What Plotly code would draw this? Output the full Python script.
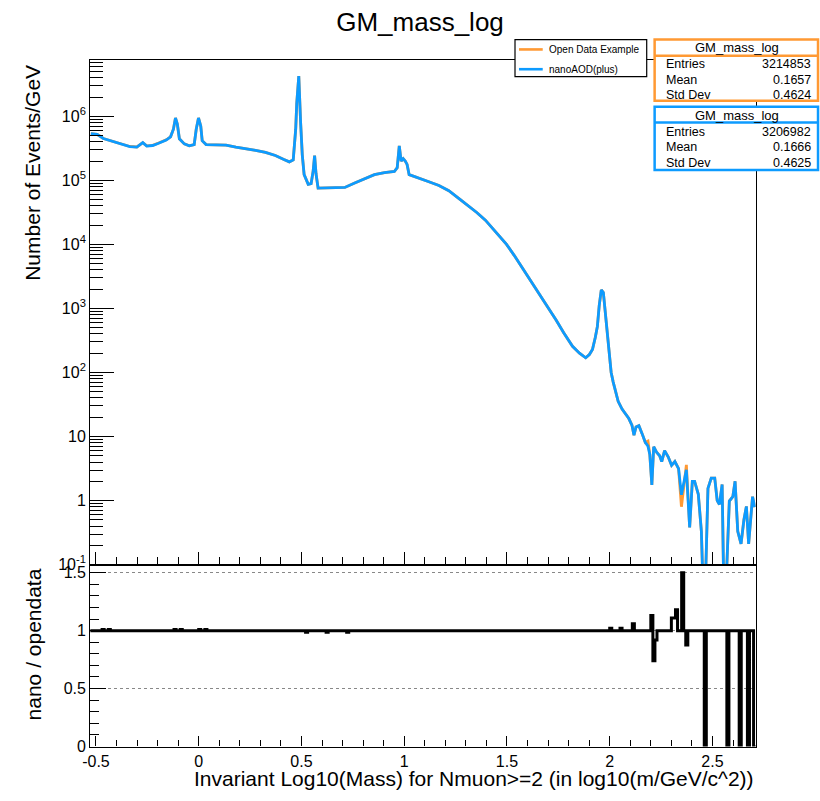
import plotly.graph_objects as go

# ---------------- data ----------------
mass_x = [
    -0.525, -0.494, -0.464, -0.431, -0.398, -0.369, -0.335, -0.301, -0.272, -0.253,
    -0.224, -0.195, -0.158, -0.137, -0.123, -0.113, -0.104, -0.094, -0.070, -0.046,
    -0.022, -0.012, -0.001, 0.010, 0.017, 0.036, 0.084, 0.133, 0.181, 0.229,
    0.277, 0.325, 0.373, 0.412, 0.441, 0.460, 0.472, 0.477, 0.487, 0.496,
    0.504, 0.513, 0.533, 0.547, 0.557, 0.564, 0.571, 0.581, 0.614, 0.663,
    0.711, 0.759, 0.807, 0.855, 0.904, 0.952, 0.966, 0.976, 0.985, 0.995,
    1.005, 1.014, 1.024, 1.072, 1.120, 1.169, 1.217, 1.273, 1.313, 1.353,
    1.395, 1.434, 1.467, 1.498, 1.535, 1.578, 1.617, 1.659, 1.699, 1.739,
    1.776, 1.819, 1.853, 1.883, 1.901, 1.916, 1.930, 1.940, 1.949, 1.959,
    1.969, 1.978, 1.988, 1.998, 2.007, 2.017, 2.028, 2.041, 2.060, 2.075,
    2.093, 2.108, 2.118, 2.128, 2.142, 2.157, 2.173, 2.186, 2.195, 2.205,
    2.214, 2.229, 2.243, 2.253, 2.267, 2.285, 2.301, 2.317, 2.335, 2.349,
    2.364, 2.373, 2.389, 2.402, 2.413, 2.431, 2.446, 2.460, 2.478, 2.494,
    2.511, 2.523, 2.534, 2.547, 2.558, 2.582, 2.599, 2.610, 2.623, 2.639,
    2.653, 2.665, 2.676, 2.695, 2.706,
]

nano = [
    537000, 525000, 452000, 417000, 389000, 363000, 337000, 331000, 389000, 343000,
    351000, 380000, 427000, 479000, 631000, 944000, 759000, 447000, 372000, 347000,
    363000, 631000, 944000, 708000, 417000, 363000, 363000, 355000, 331000, 316000,
    295000, 275000, 245000, 214000, 195000, 209000, 631000, 1580000, 4270000, 794000,
    251000, 123000, 87100, 89100, 141000, 245000, 126000, 75900, 75900, 75900,
    77600, 91200, 107000, 123000, 132000, 138000, 158000, 347000, 200000, 219000,
    200000, 178000, 123000, 107000, 95500, 83200, 69200, 50100, 39800, 31600,
    24000, 17400, 13200, 10000, 6760, 4170, 2630, 1620, 1050, 661,
    417, 257, 200, 170, 191, 229, 355, 525, 1120, 1950,
    1780, 891, 468, 200, 100, 70.8, 49.0, 35.5, 26.9, 22.9,
    19.1, 15.1, 10.5, 14.1, 14.8, 11.2, 8.13, 7.08, 5.25, 1.76,
    6.92, 5.62, 5.01, 4.07, 6.03, 4.79, 3.55, 4.07, 3.16, 1.23,
    2.00, 3.02, 0.38, 2.00, 2.00, 1.26, 0.33, 0.01, 1.55, 2.24,
    2.24, 1.00, 0.87, 1.78, 0.01, 0.98, 1.15, 2.00, 0.33, 0.21,
    0.50, 0.81, 0.21, 1.15, 0.79,
]

opendata = [
    537000, 525000, 452000, 420000, 391000, 366000, 339000, 333000, 389000, 346000,
    354000, 384000, 430000, 479000, 631000, 944000, 759000, 447000, 372000, 347000,
    363000, 631000, 944000, 708000, 417000, 363000, 363000, 355000, 331000, 316000,
    295000, 275000, 245000, 214000, 195000, 209000, 631000, 1580000, 4270000, 794000,
    251000, 123000, 87100, 89100, 141000, 245000, 126000, 75900, 75900, 75900,
    77600, 91200, 107000, 123000, 132000, 138000, 158000, 347000, 200000, 219000,
    200000, 178000, 123000, 107000, 95500, 83200, 69200, 50100, 39800, 31600,
    24000, 17400, 13200, 10000, 6760, 4170, 2630, 1620, 1050, 661,
    417, 257, 200, 170, 191, 229, 355, 525, 1120, 1950,
    1780, 891, 468, 200, 100, 70.8, 49.0, 35.5, 26.9, 22.9,
    19.1, 15.1, 10.5, 14.1, 14.8, 11.2, 8.13, 8.50, 5.25, 1.76,
    6.92, 5.62, 5.01, 4.07, 6.03, 4.79, 3.55, 4.07, 3.16, 0.80,
    2.00, 3.60, 0.38, 2.00, 2.00, 1.26, 0.33, 0.01, 1.55, 2.24,
    2.24, 1.00, 0.87, 1.78, 0.01, 0.98, 1.15, 2.00, 0.33, 0.21,
    0.50, 0.81, 0.21, 1.15, 0.79,
]

ratio_x = [
    -0.528, -0.47, -0.46, -0.44, -0.43, -0.12, -0.11, -0.09, -0.08, 0.0,
    0.01, 0.03, 0.04, 0.52, 0.53, 0.62, 0.63, 0.72, 0.73, 2.00,
    2.01, 2.05, 2.06, 2.11, 2.12, 2.20, 2.21, 2.22, 2.23, 2.30,
    2.32, 2.33, 2.35, 2.36, 2.37, 2.38, 2.46, 2.47, 2.57, 2.58,
    2.63, 2.64, 2.67, 2.68, 2.70, 2.71,
]
ratio = [
    1.0, 1.01, 1.0, 1.01, 1.0, 1.01, 1.0, 1.01, 1.0, 1.01,
    1.0, 1.01, 1.0, 0.985, 1.0, 0.985, 1.0, 0.985, 1.0, 1.02,
    1.0, 1.02, 1.0, 1.06, 1.0, 1.13, 0.74, 0.92, 1.0, 1.11,
    1.18, 1.0, 1.5, 1.0, 0.877, 1.0, 0.0, 1.0, 0.0, 1.0,
    0.0, 1.0, 0.0, 1.0, 0.0, 0.0,
]

x_ticks = [-0.5, 0, 0.5, 1, 1.5, 2, 2.5]
x_ticktext = ["-0.5", "0", "0.5", "1", "1.5", "2", "2.5"]
y_ticks = [0.1, 1, 10, 100, 1e3, 1e4, 1e5, 1e6]
y_ticktext = ["10<sup>-1</sup>", "1", "10", "10<sup>2</sup>", "10<sup>3</sup>",
              "10<sup>4</sup>", "10<sup>5</sup>", "10<sup>6</sup>"]
r_ticks = [0, 0.5, 1, 1.5]
r_ticktext = ["0", "0.5", "1", "1.5"]

legend_names = ["Open Data Example", "nanoAOD(plus)"]
stats_title = "GM_mass_log"
stats_labels = ["Entries", "Mean", "Std Dev"]
stats_open = ["3214853", "0.1657", "0.4624"]
stats_nano = ["3206982", "0.1666", "0.4625"]

ORANGE = "#ff9933"
BLUE = "#0d9bff"
W, H = 820, 801
FONT = "Liberation Sans, Arial, Helvetica, sans-serif"

fig = go.Figure()
fig.add_trace(go.Scatter(x=mass_x, y=opendata, mode="lines", name=legend_names[0],
                         line=dict(color=ORANGE, width=2.8), xaxis="x", yaxis="y",
                         showlegend=False))
fig.add_trace(go.Scatter(x=mass_x, y=nano, mode="lines", name=legend_names[1],
                         line=dict(color=BLUE, width=2.8), xaxis="x", yaxis="y",
                         showlegend=False))
fig.add_trace(go.Scatter(x=ratio_x, y=ratio, mode="lines", showlegend=False,
                         line=dict(color="black", width=3, shape="hv"),
                         xaxis="x2", yaxis="y2"))

def px(x):
    return x / W

def py(y):
    return 1 - y / H

xr = [-0.528, 2.71]
common_x = dict(range=xr, showgrid=False, zeroline=False, showline=True, linecolor="black",
                linewidth=1.2, mirror=True, ticks="inside", tickcolor="black",
                tickvals=x_ticks, ticktext=x_ticktext, domain=[px(83), px(755)],
                tickfont=dict(size=16, color="black", family=FONT))

fig.update_layout(
    width=W, height=H, autosize=False,
    margin=dict(l=0, r=0, t=0, b=0),
    paper_bgcolor="white", plot_bgcolor="white",
    font=dict(family=FONT, color="black"),
    title=dict(text="GM_mass_log", x=420 / W, xanchor="center", y=py(22), yanchor="middle",
               yref="container", font=dict(size=26, color="black", family=FONT)),
    xaxis=dict(common_x, anchor="y", showticklabels=False, ticklen=12,
               minor=dict(ticks="inside", ticklen=7, tickcolor="black", dtick=0.1, tick0=0)),
    yaxis=dict(type="log", range=[-1, 6.876], domain=[py(571), py(61)], anchor="x",
               showgrid=False, zeroline=False, showline=True, linecolor="black", linewidth=1.2,
               mirror=True, ticks="inside", ticklen=24, tickcolor="black",
               tickvals=y_ticks, ticktext=y_ticktext,
               tickfont=dict(size=16, color="black", family=FONT),
               minor=dict(ticks="inside", ticklen=13, tickcolor="black", dtick="D1",
                          showgrid=False)),
    xaxis2=dict(common_x, anchor="y2", matches="x", showticklabels=True, ticklen=10,
                minor=dict(ticks="inside", ticklen=6, tickcolor="black", dtick=0.1, tick0=0)),
    yaxis2=dict(range=[0, 1.57], domain=[py(755), py(571)], anchor="x2",
                showgrid=True, gridcolor="#888888", griddash="dot", gridwidth=1,
                zeroline=False, showline=True, linecolor="black", linewidth=1.2, mirror=True,
                ticks="inside", ticklen=16, tickcolor="black",
                tickvals=r_ticks, ticktext=r_ticktext,
                tickfont=dict(size=16, color="black", family=FONT),
                minor=dict(ticks="inside", ticklen=9, tickcolor="black", dtick=0.1, tick0=0,
                           showgrid=False)),
    showlegend=False,
)

annotations = [
    dict(text="Number of Events/GeV", x=px(24), y=py(175), xref="paper", yref="paper",
         textangle=-90, showarrow=False, xanchor="center", yanchor="middle",
         font=dict(size=21, color="black", family=FONT)),
    dict(text="nano / opendata", x=px(26), y=py(652), xref="paper", yref="paper",
         textangle=-90, showarrow=False, xanchor="center", yanchor="middle",
         font=dict(size=21, color="black", family=FONT)),
    dict(text="Invariant Log10(Mass) for Nmuon>=2 (in log10(m/GeV/c^2))",
         x=px(755), y=py(787), xref="paper", yref="paper", showarrow=False,
         xanchor="right", yanchor="middle", font=dict(size=21, color="black", family=FONT)),
]
shapes = []

# legend box (drawn like the ROOT TLegend)
shapes.append(dict(type="rect", xref="paper", yref="paper", x0=px(512), x1=px(645),
                   y0=py(77.5), y1=py(40), line=dict(color="black", width=1.2),
                   fillcolor="white", layer="above"))
for name, color, yy in zip(legend_names, [ORANGE, BLUE], [50, 70]):
    shapes.append(dict(type="line", xref="paper", yref="paper", x0=px(516), x1=px(540),
                       y0=py(yy), y1=py(yy), line=dict(color=color, width=2.6),
                       layer="above"))
    annotations.append(dict(text=name, x=px(544), y=py(yy), xref="paper", yref="paper",
                            showarrow=False, xanchor="left", yanchor="middle",
                            font=dict(size=10, color="black", family=FONT)))

def stats_box(top, bottom, head_line, rows_y, head_y, color, values):
    shapes.append(dict(type="rect", xref="paper", yref="paper", x0=px(653), x1=px(818),
                       y0=py(bottom), y1=py(top), line=dict(color=color, width=2.5),
                       fillcolor="white", layer="above"))
    shapes.append(dict(type="line", xref="paper", yref="paper", x0=px(653), x1=px(818),
                       y0=py(head_line), y1=py(head_line), line=dict(color=color, width=2.5),
                       layer="above"))
    annotations.append(dict(text=stats_title, x=px(736), y=py(head_y), xref="paper",
                            yref="paper", showarrow=False, xanchor="center", yanchor="middle",
                            font=dict(size=13, color="black", family=FONT)))
    for lab, val, yy in zip(stats_labels, values, rows_y):
        annotations.append(dict(text=lab, x=px(662), y=py(yy), xref="paper", yref="paper",
                                showarrow=False, xanchor="left", yanchor="middle",
                                font=dict(size=12.5, color="black", family=FONT)))
        annotations.append(dict(text=val, x=px(813), y=py(yy), xref="paper", yref="paper",
                                showarrow=False, xanchor="right", yanchor="middle",
                                font=dict(size=12.5, color="black", family=FONT)))

stats_box(40, 102, 56.5, [64.5, 81, 96.5], 48.5, ORANGE, stats_open)
stats_box(108, 172, 124, [133, 149, 165], 116.5, BLUE, stats_nano)

fig.update_layout(annotations=annotations, shapes=shapes)
fig.write_html("out.html", config={"responsive": False})
